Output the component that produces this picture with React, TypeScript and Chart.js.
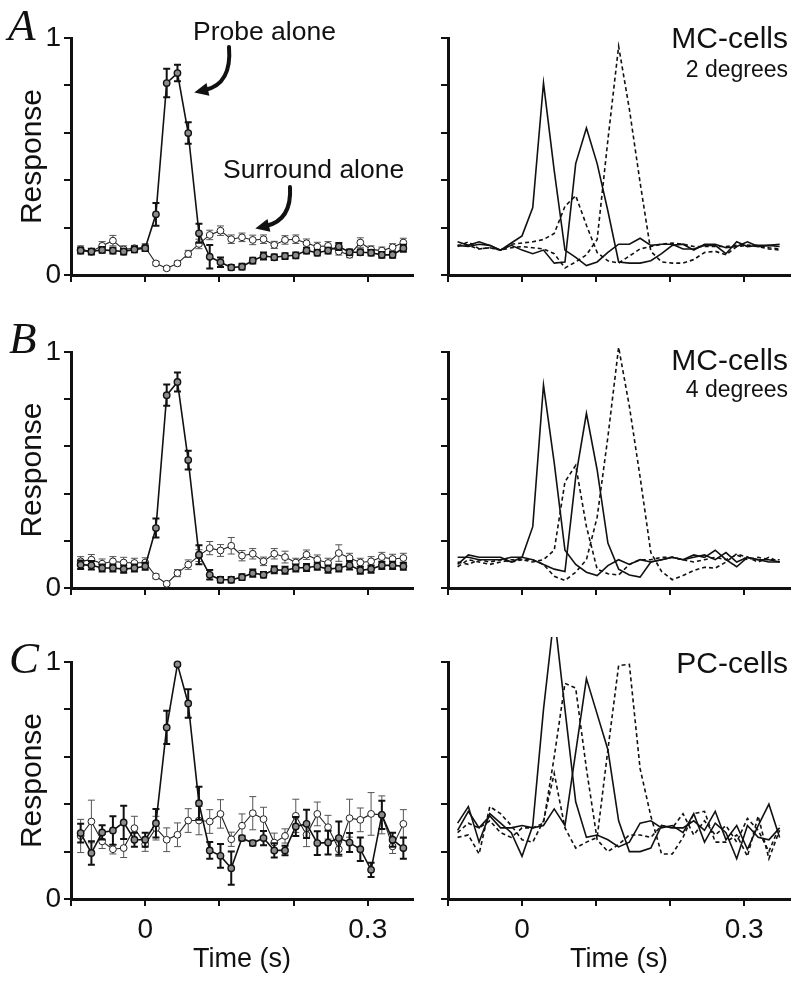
import React, { useEffect, useRef } from 'react';
import { Chart, registerables } from 'chart.js';

Chart.register(...registerables);

// ---------- data ----------
const TIMES = [
  -0.087, -0.0725, -0.058, -0.0435, -0.029, -0.0145, 0, 0.0145, 0.029, 0.0435, 0.058,
  0.0725, 0.087, 0.1015, 0.116, 0.1305, 0.145, 0.1595, 0.174, 0.1885, 0.203,
  0.2175, 0.232, 0.2465, 0.261, 0.2755, 0.29, 0.3045, 0.319, 0.3335, 0.348,
];
const X_TICKS = [-0.1, 0, 0.1, 0.2, 0.3];
const X_TICK_LABELS = ['', '0', '', '', '0.3'];
const Y_TICKS = [0, 0.2, 0.4, 0.6, 0.8, 1];
const Y_TICK_LABELS = ['0', '', '', '', '', '1'];

// Panel A (left): probe alone / surround alone
const A_PROBE = [0.103, 0.099, 0.106, 0.103, 0.099, 0.108, 0.113, 0.256, 0.81, 0.852, 0.599, 0.176, 0.077, 0.054, 0.032, 0.035, 0.061, 0.08, 0.075, 0.08, 0.083, 0.103, 0.094, 0.103, 0.12, 0.096, 0.096, 0.094, 0.085, 0.085, 0.113];
const A_PROBE_ERR = [0.012, 0.012, 0.012, 0.012, 0.012, 0.012, 0.012, 0.048, 0.06, 0.035, 0.045, 0.04, 0.05, 0.02, 0.01, 0.012, 0.012, 0.015, 0.012, 0.012, 0.012, 0.012, 0.012, 0.012, 0.015, 0.012, 0.012, 0.012, 0.012, 0.012, 0.015];
const A_SURR = [0.108, 0.099, 0.123, 0.145, 0.108, 0.113, 0.117, 0.049, 0.028, 0.049, 0.089, 0.131, 0.169, 0.187, 0.151, 0.159, 0.148, 0.151, 0.127, 0.148, 0.151, 0.134, 0.12, 0.123, 0.099, 0.085, 0.137, 0.108, 0.103, 0.117, 0.137];
const A_SURR_ERR = [0.015, 0.012, 0.018, 0.022, 0.015, 0.012, 0.015, 0.008, 0.008, 0.01, 0.015, 0.02, 0.02, 0.02, 0.018, 0.018, 0.02, 0.018, 0.015, 0.018, 0.018, 0.018, 0.018, 0.018, 0.015, 0.012, 0.02, 0.015, 0.015, 0.015, 0.018];

// Panel B (left)
const B_PROBE = [0.099, 0.096, 0.085, 0.085, 0.08, 0.085, 0.092, 0.254, 0.817, 0.873, 0.542, 0.141, 0.056, 0.035, 0.035, 0.046, 0.063, 0.056, 0.077, 0.075, 0.085, 0.087, 0.092, 0.08, 0.085, 0.096, 0.075, 0.08, 0.096, 0.096, 0.092];
const B_PROBE_ERR = [0.018, 0.018, 0.015, 0.015, 0.015, 0.015, 0.015, 0.04, 0.045, 0.04, 0.04, 0.04, 0.02, 0.012, 0.012, 0.012, 0.015, 0.012, 0.015, 0.015, 0.015, 0.015, 0.015, 0.015, 0.015, 0.018, 0.015, 0.015, 0.015, 0.015, 0.015];
const B_SURR = [0.113, 0.12, 0.103, 0.113, 0.108, 0.106, 0.108, 0.049, 0.018, 0.063, 0.099, 0.137, 0.169, 0.159, 0.179, 0.137, 0.145, 0.113, 0.145, 0.131, 0.108, 0.141, 0.12, 0.106, 0.148, 0.127, 0.108, 0.113, 0.131, 0.123, 0.127];
const B_SURR_ERR = [0.02, 0.022, 0.02, 0.02, 0.022, 0.02, 0.02, 0.01, 0.008, 0.015, 0.02, 0.025, 0.028, 0.025, 0.035, 0.022, 0.022, 0.018, 0.022, 0.025, 0.018, 0.02, 0.02, 0.02, 0.035, 0.02, 0.018, 0.02, 0.02, 0.02, 0.02];

// Panel C (left)
const C_PROBE = [0.278, 0.194, 0.281, 0.289, 0.323, 0.25, 0.25, 0.32, 0.724, 0.99, 0.825, 0.404, 0.205, 0.182, 0.13, 0.257, 0.236, 0.257, 0.205, 0.205, 0.306, 0.317, 0.236, 0.238, 0.257, 0.238, 0.21, 0.123, 0.355, 0.25, 0.215];
const C_PROBE_ERR = [0.04, 0.05, 0.03, 0.06, 0.07, 0.03, 0.03, 0.06, 0.07, 0.006, 0.06, 0.07, 0.035, 0.05, 0.07, 0.01, 0.01, 0.03, 0.03, 0.02, 0.04, 0.06, 0.05, 0.05, 0.07, 0.04, 0.05, 0.03, 0.06, 0.03, 0.045];
const C_SURR = [0.266, 0.327, 0.243, 0.21, 0.215, 0.299, 0.231, 0.299, 0.25, 0.271, 0.331, 0.331, 0.327, 0.359, 0.252, 0.309, 0.362, 0.337, 0.238, 0.266, 0.351, 0.271, 0.359, 0.303, 0.21, 0.341, 0.334, 0.359, 0.355, 0.222, 0.317];
const C_SURR_ERR = [0.07, 0.09, 0.03, 0.02, 0.04, 0.05, 0.03, 0.05, 0.05, 0.05, 0.05, 0.06, 0.05, 0.06, 0.03, 0.05, 0.07, 0.05, 0.04, 0.03, 0.07, 0.05, 0.05, 0.05, 0.03, 0.08, 0.05, 0.09, 0.08, 0.03, 0.06];

// Right panels: four response curves (two solid, two dashed)
const RA_SOLID1 = [0.14, 0.125, 0.14, 0.125, 0.105, 0.135, 0.165, 0.285, 0.81, 0.44, 0.105, 0.074, 0.04, 0.055, 0.095, 0.13, 0.13, 0.155, 0.125, 0.13, 0.13, 0.11, 0.11, 0.125, 0.125, 0.09, 0.14, 0.12, 0.125, 0.125, 0.13];
const RA_SOLID2 = [0.125, 0.12, 0.13, 0.125, 0.105, 0.125, 0.105, 0.09, 0.105, 0.05, 0.055, 0.47, 0.62, 0.47, 0.27, 0.055, 0.05, 0.05, 0.06, 0.09, 0.125, 0.13, 0.105, 0.13, 0.13, 0.115, 0.12, 0.14, 0.12, 0.125, 0.12];
const RA_DASH1 = [0.125, 0.125, 0.11, 0.115, 0.105, 0.13, 0.135, 0.14, 0.15, 0.175, 0.29, 0.335, 0.21, 0.095, 0.06, 0.05, 0.08, 0.11, 0.12, 0.13, 0.135, 0.13, 0.12, 0.12, 0.12, 0.12, 0.125, 0.125, 0.125, 0.115, 0.11];
const RA_DASH2 = [0.12, 0.14, 0.11, 0.115, 0.105, 0.115, 0.12, 0.115, 0.11, 0.09, 0.03, 0.055, 0.085, 0.15, 0.57, 0.965, 0.7, 0.39, 0.1, 0.055, 0.05, 0.05, 0.065, 0.095, 0.1, 0.085, 0.12, 0.125, 0.12, 0.11, 0.105];

const RB_SOLID1 = [0.1, 0.14, 0.13, 0.13, 0.13, 0.11, 0.13, 0.26, 0.86, 0.53, 0.16, 0.1, 0.067, 0.053, 0.095, 0.12, 0.1, 0.12, 0.11, 0.12, 0.13, 0.12, 0.13, 0.14, 0.12, 0.15, 0.11, 0.13, 0.12, 0.12, 0.11];
const RB_SOLID2 = [0.13, 0.13, 0.12, 0.12, 0.12, 0.13, 0.13, 0.12, 0.1, 0.08, 0.07, 0.47, 0.74, 0.5, 0.19, 0.08, 0.055, 0.046, 0.11, 0.12, 0.13, 0.12, 0.14, 0.13, 0.16, 0.12, 0.09, 0.13, 0.12, 0.11, 0.11];
const RB_DASH1 = [0.09, 0.12, 0.11, 0.1, 0.11, 0.12, 0.12, 0.11, 0.12, 0.16, 0.45, 0.52, 0.26, 0.08, 0.06, 0.055, 0.1, 0.12, 0.12, 0.13, 0.13, 0.12, 0.11, 0.12, 0.13, 0.12, 0.14, 0.12, 0.13, 0.12, 0.12];
const RB_DASH2 = [0.11, 0.1, 0.12, 0.11, 0.12, 0.11, 0.12, 0.12, 0.1, 0.05, 0.032, 0.067, 0.12, 0.3, 0.64, 1.02, 0.77, 0.47, 0.15, 0.07, 0.035, 0.053, 0.074, 0.088, 0.084, 0.11, 0.145, 0.13, 0.11, 0.13, 0.11];

const RC_SOLID1 = [0.32, 0.39, 0.24, 0.36, 0.32, 0.28, 0.18, 0.31, 0.8, 1.2, 0.8, 0.41, 0.26, 0.27, 0.25, 0.22, 0.24, 0.32, 0.33, 0.3, 0.31, 0.28, 0.36, 0.24, 0.32, 0.28, 0.17, 0.31, 0.26, 0.25, 0.3];
const RC_SOLID2 = [0.29, 0.37, 0.3, 0.35, 0.3, 0.3, 0.31, 0.3, 0.31, 0.38, 0.31, 0.62, 0.93, 0.78, 0.63, 0.33, 0.2, 0.2, 0.215, 0.31, 0.3, 0.3, 0.33, 0.29, 0.37, 0.25, 0.31, 0.21, 0.31, 0.4, 0.26];
const RC_DASH1 = [0.28, 0.32, 0.3, 0.33, 0.28, 0.26, 0.3, 0.3, 0.32, 0.6, 0.91, 0.89, 0.55, 0.25, 0.2, 0.23, 0.27, 0.27, 0.26, 0.31, 0.3, 0.36, 0.27, 0.33, 0.27, 0.31, 0.24, 0.34, 0.29, 0.2, 0.31];
const RC_DASH2 = [0.26, 0.27, 0.19, 0.39, 0.36, 0.31, 0.25, 0.24, 0.33, 0.53, 0.3, 0.215, 0.24, 0.26, 0.63, 0.985, 0.99, 0.55, 0.35, 0.19, 0.19, 0.26, 0.36, 0.37, 0.24, 0.24, 0.27, 0.18, 0.35, 0.17, 0.29];

// ---------- styling ----------
const SANS = "'Liberation Sans', Arial, Helvetica, sans-serif";
const SERIF = "'Liberation Serif', 'Times New Roman', Times, serif";
const INK = '#111111';
const X_MIN = -0.1;

const ROWS = [
  { top: 0, height: 300, padTop: 38, xHeight: 25 },
  { top: 300, height: 310, padTop: 52, xHeight: 22 },
  { top: 610, height: 373, padTop: 52, xHeight: 84 },
];
const COLS = [
  { left: 0, width: 420, yWidth: 71, padRight: 7, xMax: 0.361 },
  { left: 420, width: 380, yWidth: 28, padRight: 10, xMax: 0.362 },
];

function pts(vals: number[]) {
  return TIMES.map((t, i) => ({ x: t, y: vals[i] }));
}

type Bar = { index: number; vals: number[]; errs: number[]; color: string; width: number; cap: number };

function errorBarPlugin(bars: Bar[]) {
  return {
    id: 'errbars',
    beforeDatasetDraw(chart: any, args: any) {
      const b = bars.find((bb) => bb.index === args.index);
      if (!b) return;
      const { ctx } = chart;
      const x = chart.scales.x;
      const y = chart.scales.y;
      ctx.save();
      ctx.strokeStyle = b.color;
      ctx.lineWidth = b.width;
      b.vals.forEach((v, i) => {
        const px = x.getPixelForValue(TIMES[i]);
        const top = y.getPixelForValue(v + b.errs[i]);
        const bot = y.getPixelForValue(v - b.errs[i]);
        ctx.beginPath();
        ctx.moveTo(px, top);
        ctx.lineTo(px, bot);
        ctx.moveTo(px - b.cap, top);
        ctx.lineTo(px + b.cap, top);
        ctx.moveTo(px - b.cap, bot);
        ctx.lineTo(px + b.cap, bot);
        ctx.stroke();
      });
      ctx.restore();
    },
  };
}

function decoPlugin(draw: (ctx: CanvasRenderingContext2D) => void) {
  return {
    id: 'deco',
    afterDraw(chart: any) {
      const ctx = chart.ctx as CanvasRenderingContext2D;
      ctx.save();
      draw(ctx);
      ctx.restore();
    },
  };
}

function drawArrow(ctx: CanvasRenderingContext2D, p0: number[], c: number[], p1: number[]) {
  ctx.strokeStyle = INK;
  ctx.fillStyle = INK;
  ctx.lineWidth = 4;
  ctx.lineCap = 'round';
  ctx.beginPath();
  ctx.moveTo(p0[0], p0[1]);
  ctx.quadraticCurveTo(c[0], c[1], p1[0], p1[1]);
  ctx.stroke();
  const dx = p1[0] - c[0];
  const dy = p1[1] - c[1];
  const len = Math.hypot(dx, dy);
  const ux = dx / len;
  const uy = dy / len;
  const headLen = 14;
  const headW = 13;
  const bx = p1[0] - ux * 3;
  const by = p1[1] - uy * 3;
  ctx.beginPath();
  ctx.moveTo(bx + ux * headLen, by + uy * headLen);
  ctx.lineTo(bx - uy * headW / 2, by + ux * headW / 2);
  ctx.lineTo(bx + uy * headW / 2, by - ux * headW / 2);
  ctx.closePath();
  ctx.fill();
}

function text(ctx: CanvasRenderingContext2D, s: string, x: number, y: number, font: string, align: CanvasTextAlign = 'left') {
  ctx.font = font;
  ctx.fillStyle = INK;
  ctx.textAlign = align;
  ctx.textBaseline = 'alphabetic';
  ctx.fillText(s, x, y);
}

function buildOptions(col: any, row: any, isLeft: boolean, isBottom: boolean, clipTop: number) {
  return {
    responsive: false,
    animation: false,
    devicePixelRatio: 1,
    layout: { padding: { top: row.padTop, right: col.padRight, left: 0, bottom: 0 } },
    plugins: { legend: { display: false }, tooltip: { enabled: false }, title: { display: false } },
    elements: { line: { tension: 0 } },
    datasets: { line: { clip: { left: 6, right: 6, top: clipTop, bottom: 6 } } },
    scales: {
      x: {
        type: 'linear',
        min: X_MIN,
        max: col.xMax,
        afterBuildTicks: (s: any) => {
          s.ticks = X_TICKS.map((v) => ({ value: v }));
        },
        afterFit: (s: any) => {
          s.height = row.xHeight;
        },
        ticks: {
          autoSkip: false,
          maxRotation: 0,
          minRotation: 0,
          padding: 7,
          color: INK,
          font: { family: SANS, size: 28 },
          callback: (_v: any, i: number) => (isBottom ? X_TICK_LABELS[i] : ''),
        },
        grid: { drawOnChartArea: false, drawTicks: true, tickLength: 7, color: INK, lineWidth: 2 },
        border: { display: true, color: INK, width: 3 },
        title: {
          display: isBottom,
          text: 'Time (s)',
          color: INK,
          font: { family: SANS, size: 27 },
          padding: { top: 0, bottom: 7 },
        },
      },
      y: {
        type: 'linear',
        min: 0,
        max: 1,
        afterBuildTicks: (s: any) => {
          s.ticks = Y_TICKS.map((v) => ({ value: v }));
        },
        afterFit: (s: any) => {
          s.width = col.yWidth;
        },
        ticks: {
          autoSkip: false,
          padding: 3,
          color: INK,
          font: { family: SANS, size: 28 },
          callback: (_v: any, i: number) => (isLeft ? Y_TICK_LABELS[i] : ''),
        },
        grid: { drawOnChartArea: false, drawTicks: true, tickLength: 7, color: INK, lineWidth: 2 },
        border: { display: true, color: INK, width: 3 },
        title: {
          display: isLeft,
          text: 'Response',
          color: INK,
          font: { family: SANS, size: 30 },
          padding: { top: 15, bottom: 0 },
        },
      },
    },
  };
}

function leftDatasets(probe: number[], surr: number[]) {
  return [
    {
      data: pts(probe),
      borderColor: INK,
      borderWidth: 1.6,
      pointRadius: 3.2,
      pointBackgroundColor: '#8c8c8c',
      pointBorderColor: INK,
      pointBorderWidth: 1.4,
    },
    {
      data: pts(surr),
      borderColor: '#222',
      borderWidth: 1.1,
      pointRadius: 3.4,
      pointBackgroundColor: '#ffffff',
      pointBorderColor: '#222',
      pointBorderWidth: 1,
    },
  ];
}

function rightDatasets(s1: number[], s2: number[], d1: number[], d2: number[]) {
  const base = { borderColor: INK, borderWidth: 1.6, pointRadius: 0 };
  return [
    { ...base, data: pts(s1) },
    { ...base, data: pts(s2) },
    { ...base, data: pts(d1), borderDash: [4, 3] },
    { ...base, data: pts(d2), borderDash: [4, 3] },
  ];
}

const LETTER_FONT = `italic 45px ${SERIF}`;

const PANELS = [
  {
    row: 0, col: 0,
    datasets: () => leftDatasets(A_PROBE, A_SURR),
    bars: [
      { index: 0, vals: A_PROBE, errs: A_PROBE_ERR, color: INK, width: 2, cap: 3.5 },
      { index: 1, vals: A_SURR, errs: A_SURR_ERR, color: '#555', width: 1, cap: 3.5 },
    ],
    deco: (ctx: CanvasRenderingContext2D) => {
      text(ctx, 'A', 8, 40, LETTER_FONT);
      text(ctx, 'Probe alone', 193, 40, `26.5px ${SANS}`);
      text(ctx, 'Surround alone', 223, 178, `26.5px ${SANS}`);
      drawArrow(ctx, [229, 47], [232, 84], [205, 90]);
      drawArrow(ctx, [290, 187], [292, 220], [266, 226]);
    },
  },
  {
    row: 0, col: 1,
    datasets: () => rightDatasets(RA_SOLID1, RA_SOLID2, RA_DASH1, RA_DASH2),
    bars: [],
    deco: (ctx: CanvasRenderingContext2D) => {
      text(ctx, 'MC-cells', 368, 48, `30px ${SANS}`, 'right');
      text(ctx, '2 degrees', 368, 77, `23px ${SANS}`, 'right');
    },
  },
  {
    row: 1, col: 0,
    datasets: () => leftDatasets(B_PROBE, B_SURR),
    bars: [
      { index: 0, vals: B_PROBE, errs: B_PROBE_ERR, color: INK, width: 2, cap: 3.5 },
      { index: 1, vals: B_SURR, errs: B_SURR_ERR, color: '#555', width: 1, cap: 3.5 },
    ],
    deco: (ctx: CanvasRenderingContext2D) => {
      text(ctx, 'B', 9, 53, LETTER_FONT);
    },
  },
  {
    row: 1, col: 1,
    datasets: () => rightDatasets(RB_SOLID1, RB_SOLID2, RB_DASH1, RB_DASH2),
    bars: [],
    deco: (ctx: CanvasRenderingContext2D) => {
      text(ctx, 'MC-cells', 368, 70, `30px ${SANS}`, 'right');
      text(ctx, '4 degrees', 368, 97, `23px ${SANS}`, 'right');
    },
  },
  {
    row: 2, col: 0,
    datasets: () => leftDatasets(C_PROBE, C_SURR),
    bars: [
      { index: 0, vals: C_PROBE, errs: C_PROBE_ERR, color: INK, width: 2, cap: 3.5 },
      { index: 1, vals: C_SURR, errs: C_SURR_ERR, color: '#555', width: 1, cap: 3.5 },
    ],
    deco: (ctx: CanvasRenderingContext2D) => {
      text(ctx, 'C', 9, 63, LETTER_FONT);
    },
  },
  {
    row: 2, col: 1,
    datasets: () => rightDatasets(RC_SOLID1, RC_SOLID2, RC_DASH1, RC_DASH2),
    bars: [],
    deco: (ctx: CanvasRenderingContext2D) => {
      text(ctx, 'PC-cells', 368, 63, `30px ${SANS}`, 'right');
    },
  },
];

export default function App() {
  const refs = useRef<(HTMLCanvasElement | null)[]>([]);

  useEffect(() => {
    const charts: Chart[] = [];
    PANELS.forEach((p, k) => {
      const canvas = refs.current[k];
      if (!canvas) return;
      const row = ROWS[p.row];
      const col = COLS[p.col];
      const isLeft = p.col === 0;
      const isBottom = p.row === 2;
      const chart = new Chart(canvas, {
        type: 'line',
        data: { datasets: p.datasets() as any },
        options: buildOptions(col, row, isLeft, isBottom, 25) as any,
        plugins: [errorBarPlugin(p.bars as Bar[]), decoPlugin(p.deco)],
      });
      charts.push(chart);
    });
    return () => charts.forEach((c) => c.destroy());
  }, []);

  return (
    <div style={{ position: 'absolute', left: 0, top: 0, width: 800, height: 983, background: '#fff', overflow: 'hidden' }}>
      {PANELS.map((p, k) => {
        const row = ROWS[p.row];
        const col = COLS[p.col];
        return (
          <canvas
            key={k}
            ref={(el) => {
              refs.current[k] = el;
            }}
            width={col.width}
            height={row.height}
            style={{ position: 'absolute', left: col.left, top: row.top, width: col.width, height: row.height }}
          />
        );
      })}
    </div>
  );
}
